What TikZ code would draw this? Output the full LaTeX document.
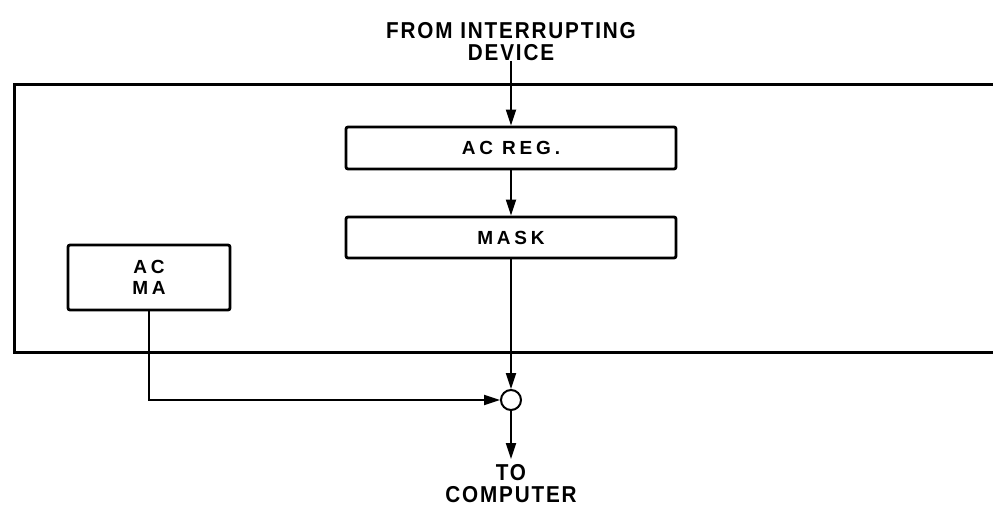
\documentclass[tikz,border=0pt]{standalone}
\usepackage{fontspec}
\usetikzlibrary{arrows.meta}
\newfontfamily\lblfont[FakeStretch=0.9,LetterSpace=8]{Liberation Sans}
\newfontfamily\boxfont[LetterSpace=20]{Liberation Sans}
\tikzset{
  lbl/.style={font=\lblfont\bfseries\fontsize{23}{22.5}\selectfont, align=center, inner sep=0pt},
  blk/.style={draw, line width=2.8pt, rounded corners=2pt, font=\boxfont\bfseries\fontsize{19}{21}\selectfont, align=center, inner sep=0pt},
  wire/.style={line width=2pt},
  arr/.style={wire, -{Triangle[length=16pt,width=10pt]}},
  frame/.style={line width=3pt}
}
\begin{document}
\begin{tikzpicture}[x=1pt,y=-1pt]
\useasboundingbox (0,0) rectangle (993,508);
% outer frame (open at right)
\draw[frame] (993,85) -- (14,85) -- (14,352) -- (993,352);
% top label
\node[lbl, anchor=south] (src) at (511,61) {FROM INTERRUPTING\\DEVICE};
% blocks
\node[blk, minimum width=330pt, minimum height=42pt] (acreg) at (511,148) {AC REG.};
\node[blk, minimum width=330pt, minimum height=41pt] (mask) at (511,237.5) {MASK};
\node[blk, minimum width=162pt, minimum height=65pt] (acma) at (149,277.5) {AC\\MA};
% junction
\node[draw, circle, line width=2pt, minimum size=20pt, inner sep=0pt, fill=white] (j) at (511,400) {};
% output
\coordinate (outend) at (511,459);
\node[lbl, anchor=north] (dst) at (511,464) {TO\\COMPUTER};
% connectors
\draw[arr] (src.south) -- (acreg.north);
\draw[arr] (acreg.south) -- (mask.north);
\draw[arr] (mask.south) -- (j.north);
\draw[arr] (acma.south) |- (j.west);
\draw[arr] (j.south) -- (outend);
\end{tikzpicture}
\end{document}
